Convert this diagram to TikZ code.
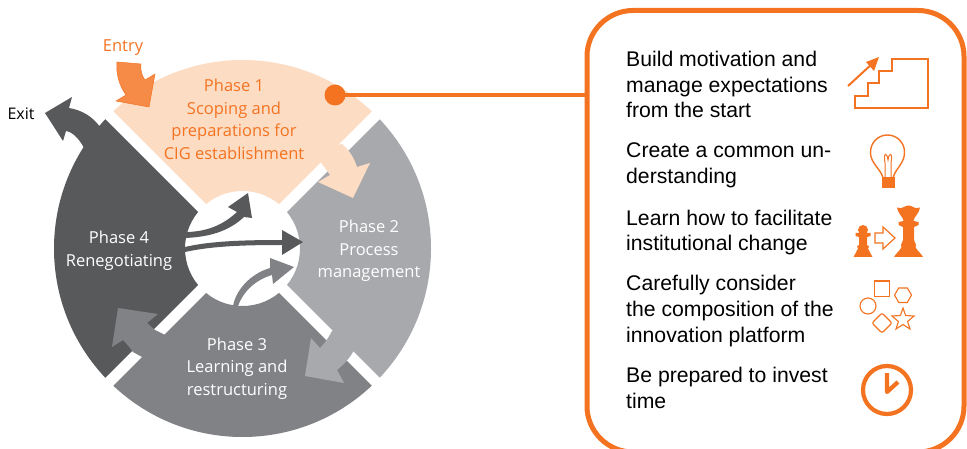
\documentclass[tikz,border=0pt]{standalone}
\usepackage{fontspec}
\setmainfont{Open Sans}
\newfontfamily\arialfont{Liberation Sans}
\definecolor{orangeM}{HTML}{F47321}
\definecolor{orangeE}{HTML}{F68B47}
\definecolor{peach}{HTML}{FDDCC4}
\definecolor{grayA}{HTML}{A7A9AC}
\definecolor{grayB}{HTML}{808285}
\definecolor{grayC}{HTML}{58595B}
\tikzset{
  phaselabel/.style={align=center,font=\fontsize{16.5}{22.6}\selectfont,inner sep=0pt},
  tiptext/.style={anchor=west,align=left,font=\arialfont\fontsize{21.2}{25.8}\selectfont,inner sep=0pt},
  iconline/.style={draw=orangeM,line width=1.5pt,line join=miter},
  iconfill/.style={fill=orangeM},
}
\newcommand{\ringsector}[2]{%
  \begin{scope}\clip #2;
  \fill[#1,even odd rule] (242.5,248.5) circle[radius=188.5pt] (242.5,248.5) circle[radius=57.5pt];
  \end{scope}}
\begin{document}
\begin{tikzpicture}[x=1pt,y=-1pt]
\useasboundingbox (0,0) rectangle (967,449);
\fill[white] (0,0) rectangle (967,449);
% ring sectors
\ringsector{peach}{(242.5,240.5) -- (-57.5,-59.5) -- (542.5,-59.5) -- cycle}
\ringsector{grayA}{(250.5,248.5) -- (550.5,-51.5) -- (550.5,548.5) -- cycle}
\ringsector{grayB}{(242.5,256.5) -- (542.5,556.5) -- (-57.5,556.5) -- cycle}
\ringsector{grayC}{(234.5,248.5) -- (-65.5,-51.5) -- (-65.5,548.5) -- cycle}
% cycle arrows
\fill[peach] (342,144) .. controls (350,151) and (354,158) .. (357,167) -- (370,163) -- (353,198) -- (318,182) -- (330,175) .. controls (328,172) and (325,168) .. (322,164) -- (310,150) -- cycle;
\fill[grayA] (332,331) .. controls (329,337) and (325,343) .. (320,348) -- (311,338) -- (305,376) -- (344,383) -- (337,370) .. controls (343,365) and (349,359) .. (353,352) -- (370,320) -- cycle;
\fill[grayB] (155,330) -- (147,323) -- (158,314) -- (118,308) -- (112,347) -- (123,340) .. controls (127,344) and (130,348) .. (133,352) -- (142,357) -- (175,340) -- cycle;
% entry arrow
\fill[orangeE,draw=orangeM,line width=.5pt] (117,62) -- (141,64) .. controls (140,70) and (142,76) .. (145,80) -- (155,74) -- (149,107) -- (116,101) -- (126,95) .. controls (119,85) and (116,74) .. (117,62) -- cycle;
% exit arrow
\fill[grayC] (45,113) -- (72,97) -- (69,108) .. controls (82,110) and (93,117) .. (100,127) -- (105,122) -- (130,150) -- (84,165) -- (84,148) .. controls (80,140) and (73,132) .. (66,131) -- (63,141) -- cycle;
% inner arrows
\fill[grayC] (185,232) .. controls (205,232) and (222,226) .. (237,212) -- (228,207) -- (248,193) -- (252,218) -- (244,217) .. controls (228,232) and (208,237) .. (185,238) -- cycle;
\fill[grayC] (185,247) .. controls (210,241) and (245,240) .. (282,240) -- (282,230) -- (303,242) -- (282,255) -- (282,245) .. controls (245,245) and (212,246) .. (185,252) -- cycle;
\fill[grayB] (233,306) .. controls (236,290) and (250,274) .. (270,268) -- (270,258) -- (294,267) -- (273,284) -- (272,275) .. controls (255,280) and (243,292) .. (238,306) -- cycle;
% phase labels
\node[phaselabel,text=orangeM] (entry) at (123,48) {Entry};
\node[phaselabel,text=black,font=\fontsize{16}{20}\selectfont] (exit) at (21,114) {Exit};
\node[phaselabel,text=orangeM] (p1) at (234,119.5) {Phase 1\\Scoping and\\preparations for\\CIG establishment};
\node[phaselabel,text=white] (p2) at (369,251) {Phase 2\\Process\\management};
\node[phaselabel,text=white] (p3) at (237,368.5) {Phase 3\\Learning and\\restructuring};
\node[phaselabel,text=white] (p4) at (119,250.5) {Phase 4\\Renegotiating};
% box and connector
\node[draw=orangeM,line width=5pt,rounded corners=46pt,minimum width=377pt,minimum height=441.5pt,inner sep=0pt] (box) at (775.5,231.25) {};
\node[circle,fill=orangeM,minimum size=21pt,inner sep=0pt] (dot) at (335,95) {};
\draw[orangeM,line width=4pt] (dot.center) -- (box.west |- dot.center);
% tips
\node[tiptext] (t1) at (626,84.5) {Build motivation and\\manage expectations\\from the start};
\node[tiptext] (t2) at (626,165) {Create a common un-\\derstanding};
\node[tiptext] (t3) at (626,232.5) {Learn how to facilitate\\institutional change};
\node[tiptext] (t4) at (626,311) {Carefully consider\\the composition of the\\innovation platform};
\node[tiptext] (t5) at (626,388) {Be prepared to invest\\time};
% stairs icon
\draw[iconline,line width=1.7pt] (855,108) -- (855,96) -- (868,96) -- (868,83) -- (879,83) -- (879,71) -- (892,71) -- (892,59) -- (928,59) -- (928,108) -- cycle;
\draw[orangeM,line width=2pt] (848,86) -- (873,63);
\fill[iconfill] (879,57) -- (866,62) -- (874,71) -- cycle;
% bulb icon
\draw[iconline,line width=1.4pt] (883,178) .. controls (881,169) and (870,163) .. (870.5,152) arc[start angle=180,end angle=0,radius=17pt] .. controls (905,163) and (895,169) .. (893,178);
\draw[iconline,line width=1pt] (885,178) -- (885,163) .. controls (883,152) and (887,152) .. (888,160) .. controls (889,152) and (893,152) .. (891,163) -- (891,178);
\fill[iconfill] (882,177) rectangle (895,188.5);
% pawn
\fill[iconfill] (863,230) circle[radius=5pt];
\fill[iconfill] (855.5,233) -- (870.5,233) -- (870.5,236) -- (867,237) -- (867,245) -- (869,246.5) -- (868,248.5) .. controls (869,252) and (871.5,254) .. (872.5,257) -- (853.5,257) .. controls (854.5,254) and (857,252) .. (858,248.5) -- (857,246.5) -- (859,245) -- (859,237) -- (855.5,236) -- cycle;
% transfer arrow
\draw[iconline,line width=1.2pt] (875,233) -- (883,233) -- (883,227) -- (895,238) -- (883,249) -- (883,243) -- (875,243) -- cycle;
% queen
\fill[iconfill] (904,207) .. controls (907,205) and (910,205) .. (913,207) .. controls (915,208.5) and (917,208.5) .. (920,207.5) .. controls (919,213) and (916,215) .. (914,219) -- (913.5,221) -- (918.5,222) -- (918.5,225) -- (914,227) -- (914,240) -- (916,245) -- (915.5,247) .. controls (917,251) and (921,253) .. (923,257) -- (894,257) .. controls (896,253) and (900,251) .. (901.5,247) -- (901,245) -- (903,240) -- (903,227) -- (898.5,225) -- (898.5,222) -- (903.5,221) -- (903,219) .. controls (901,215) and (898,213) .. (897,207.5) .. controls (899,208.5) and (902,208.5) .. (904,207) -- cycle;
% shapes icon
\draw[iconline,line width=1.1pt] (874.5,281) rectangle (889.5,296.5);
\draw[iconline,line width=1.1pt] (894.5,295) -- (898.7,288) -- (907.3,288) -- (911.5,295) -- (907.3,302.5) -- (898.7,302.5) -- cycle;
\draw[iconline,line width=1.1pt] (868,306) circle[radius=8pt];
\draw[iconline,line width=1.1pt,rounded corners=2pt] (882,313) -- (892,323) -- (882,333) -- (872,323) -- cycle;
\draw[iconline,line width=1.1pt] (903,308) -- (905.6,315.5) -- (914,316) -- (907.6,321.5) -- (910,329) -- (903,324.5) -- (896,329) -- (898.4,321.5) -- (892,316) -- (900.4,315.5) -- cycle;
% clock icon
\draw[orangeM,line width=4.2pt] (887,390) circle[radius=24pt];
\draw[orangeM,line width=4.2pt,line join=round] (887,373) -- (887,392) -- (898,382);
\end{tikzpicture}
\end{document}
